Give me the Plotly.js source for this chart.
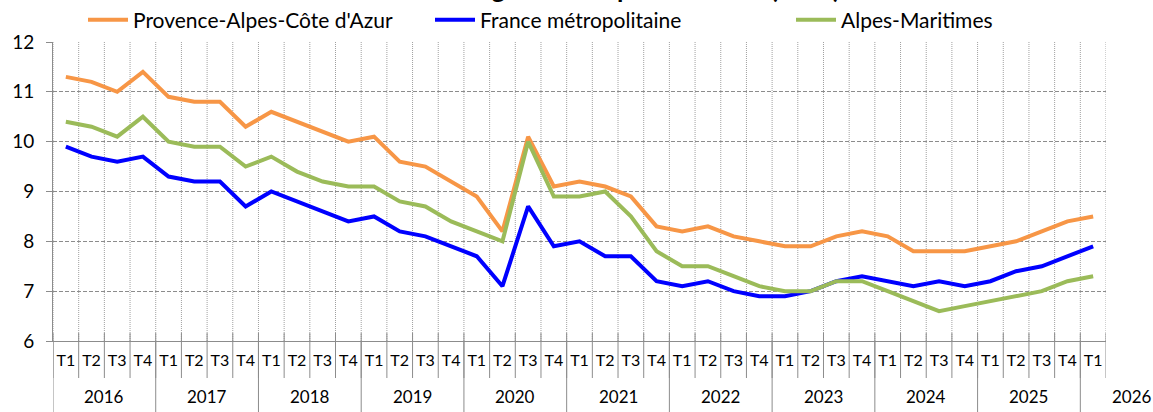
<!DOCTYPE html>
<html>
<head>
<meta charset="utf-8">
<script src="https://cdn.plot.ly/plotly-3.0.1.min.js"></script>
<style>html,body{margin:0;padding:0;background:#fff;}#chart{width:1153px;height:412px;}</style>
</head>
<body>
<div id="chart"></div>
<script>
const years = ['2016','2017','2018','2019','2020','2021','2022','2023','2024','2025','2026'];
const quarterLabels = [
  'T1','T2','T3','T4','T1','T2','T3','T4','T1','T2','T3','T4',
  'T1','T2','T3','T4','T1','T2','T3','T4','T1','T2','T3','T4',
  'T1','T2','T3','T4','T1','T2','T3','T4','T1','T2','T3','T4',
  'T1','T2','T3','T4','T1'
];
const seriesNames = ["Provence-Alpes-Côte d'Azur", 'France métropolitaine', 'Alpes-Maritimes'];
const paca = [11.3,11.2,11.0,11.4, 10.9,10.8,10.8,10.3, 10.6,10.4,10.2,10.0, 10.1,9.6,9.5,9.2,
  8.9,8.2,10.1,9.1, 9.2,9.1,8.9,8.3, 8.2,8.3,8.1,8.0, 7.9,7.9,8.1,8.2, 8.1,7.8,7.8,7.8, 7.9,8.0,8.2,8.4, 8.5];
const france = [9.9,9.7,9.6,9.7, 9.3,9.2,9.2,8.7, 9.0,8.8,8.6,8.4, 8.5,8.2,8.1,7.9,
  7.7,7.1,8.7,7.9, 8.0,7.7,7.7,7.2, 7.1,7.2,7.0,6.9, 6.9,7.0,7.2,7.3, 7.2,7.1,7.2,7.1, 7.2,7.4,7.5,7.7, 7.9];
const am = [10.4,10.3,10.1,10.5, 10.0,9.9,9.9,9.5, 9.7,9.4,9.2,9.1, 9.1,8.8,8.7,8.4,
  8.2,8.0,10.0,8.9, 8.9,9.0,8.5,7.8, 7.5,7.5,7.3,7.1, 7.0,7.0,7.2,7.2, 7.0,6.8,6.6,6.7, 6.8,6.9,7.0,7.2, 7.3];
const titleText = 'Taux de chômage localisé par territoire (en %)';

const FONT = 'Lato, "Open Sans", sans-serif';
const W = 1153, H = 412;
const n = quarterLabels.length;
const idx = quarterLabels.map((_, i) => i);
const colors = ['#F79646', '#0000FF', '#9BBB59'];
const legendIds = ['legend', 'legend2', 'legend3'];
const data = [paca, france, am].map((vals, k) => ({
  x: idx, y: vals, type: 'scatter', mode: 'lines', name: seriesNames[k], legend: legendIds[k],
  line: {color: colors[k], width: 4}, hoverinfo: 'x+y'
}));

// plot area geometry (px): top 42, bottom 341
const plotH = 299;
const px2paper = p => -p / plotH;
const idx2paper = v => (v + 0.5) / n;

const shapes = [];
const annotations = [];
// vertical dotted gridlines + quarter separators
for (let i = 0; i <= n; i++) {
  const b = i - 0.5;
  shapes.push({type: 'line', xref: 'x', yref: 'paper', x0: b, x1: b, y0: 0, y1: 1,
    line: {color: '#a0a0a0', width: 1, dash: '1px,1px'}, layer: 'below'});
  shapes.push({type: 'line', xref: 'x', yref: 'paper', x0: b, x1: b, y0: 8 / plotH, y1: px2paper(37),
    line: {color: '#8c8c8c', width: 1}, layer: 'above'});
}
// year groups
const groupStarts = [];
quarterLabels.forEach((q, i) => { if (q === 'T1') groupStarts.push(i); });
groupStarts.forEach((s, g) => {
  const b = s - 0.5;
  shapes.push({type: 'line', xref: 'x', yref: 'paper', x0: b, x1: b, y0: 0, y1: px2paper(75),
    line: {color: '#8c8c8c', width: 1}, layer: 'above'});
  const end = g + 1 < groupStarts.length ? groupStarts[g + 1] : n;
  let cx = (s + end - 1) / 2;
  if (end - s < 4) cx = s + 1.5; // partial last year, label sits right of plot
  annotations.push({xref: 'paper', yref: 'paper', x: idx2paper(cx), y: px2paper(56), text: years[g],
    showarrow: false, xanchor: 'center', yanchor: 'middle', font: {family: FONT, size: 17, color: '#000'}});
});
// title (cut at top of image, as in the reference)
annotations.push({xref: 'paper', yref: 'paper', x: 0.5, y: 1 + 35.5 / plotH, xanchor: 'center', yanchor: 'bottom',
  text: '<b>' + titleText + '</b>', showarrow: false, font: {family: FONT, size: 26, color: '#000'}});

const legendStarts = [83, 430, 791];
const mkLegend = x0 => ({orientation: 'h', xref: 'container', yref: 'container',
  x: x0 / W, xanchor: 'left', y: 1 - 20 / H, yanchor: 'middle',
  font: {family: FONT, size: 21, color: '#000'}, itemwidth: 40, bgcolor: 'rgba(0,0,0,0)'});

const layout = {
  width: W, height: H,
  margin: {l: 53, r: 47, t: 42, b: 71, pad: 0, autoexpand: false},
  paper_bgcolor: '#fff', plot_bgcolor: '#fff',
  font: {family: FONT, color: '#000'},
  showlegend: true,
  legend: mkLegend(legendStarts[0]),
  legend2: mkLegend(legendStarts[1]),
  legend3: mkLegend(legendStarts[2]),
  xaxis: {type: 'linear', range: [-0.5, n - 0.5], tickvals: idx, ticktext: quarterLabels,
    showgrid: false, zeroline: false, ticks: '', showline: true, linecolor: '#8c8c8c', linewidth: 1,
    ticklabelstandoff: 5,
    tickfont: {family: FONT, size: 16, color: '#000'}, fixedrange: true},
  yaxis: {range: [6, 12], dtick: 1, tick0: 6, showgrid: true, gridcolor: '#8c8c8c', griddash: '4px,2px',
    gridwidth: 1, zeroline: false, showline: true, linecolor: '#8c8c8c', linewidth: 1,
    ticks: 'outside', ticklen: 6, tickcolor: '#8c8c8c', ticklabelstandoff: 8,
    tickfont: {family: FONT, size: 19, color: '#000'}, fixedrange: true},
  shapes: shapes, annotations: annotations
};
Plotly.newPlot('chart', data, layout, {displayModeBar: false, staticPlot: true});
</script>
</body>
</html>
